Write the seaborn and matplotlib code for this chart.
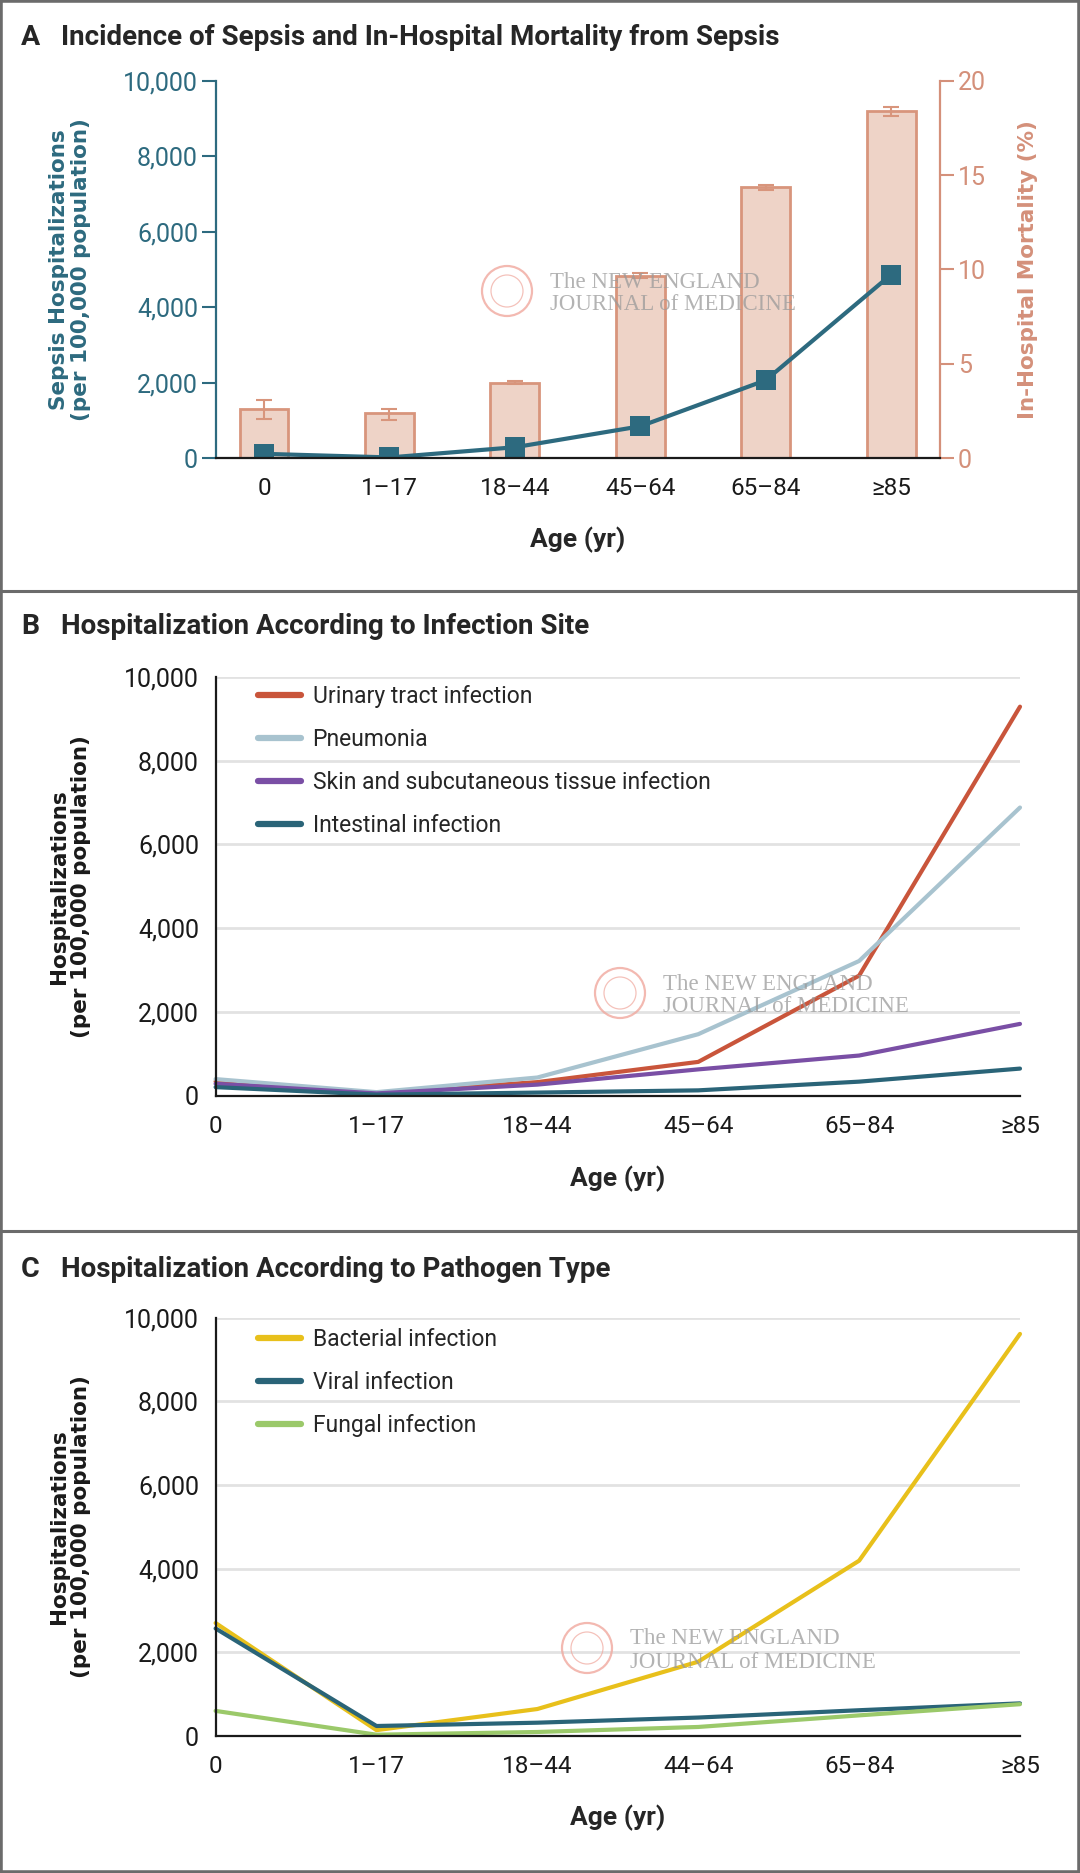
import matplotlib.pyplot as plt
import matplotlib.patches as mpatches
from matplotlib.lines import Line2D
from matplotlib.ticker import FuncFormatter
import seaborn as sns
import pandas as pd

# ---- data ----
age_groups = ['0', '1–17', '18–44', '45–64', '65–84', '≥85']
age_groups_c = ['0', '1–17', '18–44', '44–64', '65–84', '≥85']

# panel A
sepsis_rate = [110, 15, 285, 840, 2060, 4860]
mortality_pct = [2.6, 2.36, 4.0, 9.67, 14.36, 18.37]
mortality_low = [2.07, 2.04, 3.9, 9.55, 14.22, 18.14]
mortality_high = [3.09, 2.61, 4.1, 9.8, 14.49, 18.59]

# panel B
site_names = ['Urinary tract infection', 'Pneumonia',
              'Skin and subcutaneous tissue infection', 'Intestinal infection']
uti = [335, 60, 320, 803, 2864, 9291]
pneumonia = [392, 80, 430, 1465, 3214, 6881]
skin = [280, 50, 260, 624, 955, 1711]
intestinal = [200, 20, 70, 123, 331, 643]

# panel C
pathogen_names = ['Bacterial infection', 'Viral infection', 'Fungal infection']
bacterial = [2700, 140, 645, 1776, 4190, 9610]
viral = [2570, 239, 318, 441, 616, 780]
fungal = [600, 31, 96, 216, 493, 760]

# ---- style ----
TEAL = '#2d6a7f'
SALMON = '#d4907a'
BAR_FILL = '#eed3c7'
BAR_EDGE = '#d8957c'
BORDER = '#6b6b6b'
site_colors = ['#c9553b', '#a8c3cf', '#7a4fa5', '#2a6478']
pathogen_colors = ['#e8c01b', '#2a6478', '#9bc96a']

sns.set_style('white')
plt.rcParams['font.family'] = ['Roboto', 'DejaVu Sans']
plt.rcParams['axes.linewidth'] = 1.6

W, H = 1080, 1873
fig = plt.figure(figsize=(W / 100, H / 100), dpi=100)


def fx(px):
    return px / W


def fy(py):
    return 1 - py / H


def axes_rect(left, top, right, bottom):
    return [fx(left), fy(bottom), (right - left) / W, (bottom - top) / H]


comma_fmt = FuncFormatter(lambda v, p: f'{int(v):,}')
label_font = dict(family='DejaVu Sans', fontweight='bold', fontsize=15.5)


def panel_title(letter, text, baseline):
    fig.text(fx(21), fy(baseline), letter, fontsize=20.5, fontweight='bold', va='baseline')
    fig.text(fx(61), fy(baseline), text, fontsize=20, fontweight='bold', va='baseline')


def watermark(cx, cy):
    fig.add_artist(mpatches.Ellipse((fx(cx), fy(cy)), 50 / W, 50 / H, transform=fig.transFigure,
                                    fill=False, ec='#f0a89e', lw=1.6, alpha=0.8))
    fig.add_artist(mpatches.Ellipse((fx(cx), fy(cy)), 32 / W, 32 / H, transform=fig.transFigure,
                                    fill=False, ec='#f0a89e', lw=0.9, alpha=0.7))
    fig.text(fx(cx + 43), fy(cy - 9), 'The NEW ENGLAND', family='Liberation Serif',
             fontsize=16.5, color='#9a9a9a', alpha=0.75, va='center')
    fig.text(fx(cx + 43), fy(cy + 14), 'JOURNAL of MEDICINE', family='Liberation Serif',
             fontsize=16.5, color='#9a9a9a', alpha=0.75, va='center')


# ================= Panel A =================
ax_a = fig.add_axes(axes_rect(216, 80.7, 940, 458))
ax_a2 = ax_a.twinx()

sns.barplot(x=age_groups, y=mortality_pct, ax=ax_a2, color=BAR_FILL, edgecolor=BAR_EDGE,
            linewidth=2, width=0.39, saturation=1, errorbar=None)
yerr = [[m - lo for m, lo in zip(mortality_pct, mortality_low)],
        [hi - m for m, hi in zip(mortality_pct, mortality_high)]]
ax_a2.errorbar(range(len(age_groups)), mortality_pct, yerr=yerr, fmt='none',
               ecolor=BAR_EDGE, elinewidth=1.5, capsize=6, capthick=1.5)

sns.pointplot(x=age_groups, y=sepsis_rate, ax=ax_a, color=TEAL, markers='s',
              markersize=15, linewidth=3, markeredgewidth=0, errorbar=None)

ax_a.set_zorder(ax_a2.get_zorder() + 1)
ax_a.patch.set_visible(False)

ax_a.set_ylim(0, 10000)
ax_a2.set_ylim(0, 20)
ax_a.set_xlim(-0.383, 5.39)
ax_a.set_yticks(range(0, 10001, 2000))
ax_a.yaxis.set_major_formatter(comma_fmt)
ax_a2.set_yticks(range(0, 21, 5))

for s in ['top', 'right']:
    ax_a.spines[s].set_visible(False)
ax_a.spines['left'].set_color(TEAL)
ax_a.spines['bottom'].set_color('#1a1a1a')
for s in ['top', 'left', 'bottom']:
    ax_a2.spines[s].set_visible(False)
ax_a2.spines['right'].set_color(SALMON)

ax_a.tick_params(axis='y', colors=TEAL, length=10, width=1.5, labelsize=18, pad=3)
ax_a.tick_params(axis='x', colors='#1a1a1a', length=9, width=1.5, labelsize=17.5, pad=5)
ax_a2.tick_params(axis='y', colors=SALMON, length=10, width=1.5, labelsize=18, pad=3)

ax_a.set_ylabel('Sepsis Hospitalizations\n(per 100,000 population)', color=TEAL,
                va='center', linespacing=1.15, **label_font)
ax_a.yaxis.set_label_coords((70 - 216) / 724, 0.5)
ax_a2.set_ylabel('In-Hospital Mortality (%)', color=SALMON, rotation=90, va='center', **label_font)
ax_a2.yaxis.set_label_coords((1028 - 216) / 724, 0.5)
ax_a.set_xlabel('Age (yr)', fontsize=19, fontweight='bold', va='center')
ax_a.xaxis.set_label_coords(0.5, (458 - 540) / 377.3)

panel_title('A', 'Incidence of Sepsis and In-Hospital Mortality from Sepsis', 45)
watermark(507, 291)


# ================= Panels B and C =================
def line_panel(ax, ages, names, series, colors, legend_top, xlabel_y, bottom_px):
    df = pd.DataFrame({
        'age': [a for _ in names for a in ages],
        'rate': [v for s in series for v in s],
        'group': [n for n in names for _ in ages],
    })
    sns.lineplot(data=df, x='age', y='rate', hue='group', hue_order=names,
                 palette=dict(zip(names, colors)), lw=3, sort=False, ax=ax, clip_on=False)
    ax.set_ylim(0, 10000)
    ax.set_xlim(0, len(ages) - 1)
    ax.set_yticks(range(0, 10001, 2000))
    ax.yaxis.set_major_formatter(comma_fmt)
    ax.yaxis.grid(True, color='#e2e2e2', lw=2)
    ax.set_axisbelow(True)
    for s in ['top', 'right']:
        ax.spines[s].set_visible(False)
    for s in ['left', 'bottom']:
        ax.spines[s].set_color('#1a1a1a')
    ax.tick_params(axis='both', colors='#1a1a1a', length=9, width=1.5, labelsize=18)
    ax.tick_params(axis='y', pad=3)
    ax.tick_params(axis='x', pad=5, labelsize=17.5)
    ax.set_ylabel('Hospitalizations\n(per 100,000 population)', color='#1a1a1a',
                  va='center', linespacing=1.15, **label_font)
    ax.yaxis.set_label_coords((70 - 215.6) / 804.4, 0.5)
    ax.set_xlabel('Age (yr)', fontsize=19, fontweight='bold', va='center')
    ax.xaxis.set_label_coords(0.5, (bottom_px - xlabel_y) / 418.5)
    sns.move_legend(ax, 'upper left', bbox_to_anchor=(0.053, legend_top), frameon=False,
                    title=None, fontsize=16.5, handlelength=1.85, handletextpad=0.52,
                    labelspacing=0.88, borderpad=0, borderaxespad=0)
    for ln in ax.get_legend().get_lines():
        ln.set_linewidth(4.5)


ax_b = fig.add_axes(axes_rect(215.6, 677, 1020, 1095.5))
line_panel(ax_b, age_groups, site_names, [uti, pneumonia, skin, intestinal],
           site_colors, 0.982, 1179, 1095.5)
panel_title('B', 'Hospitalization According to Infection Site', 634)
watermark(620, 993)

ax_c = fig.add_axes(axes_rect(215.6, 1317.6, 1020, 1736))
line_panel(ax_c, age_groups_c, pathogen_names, [bacterial, viral, fungal],
           pathogen_colors, 0.975, 1818, 1736)
panel_title('C', 'Hospitalization According to Pathogen Type', 1277)
watermark(587, 1648)

# ---- panel frames ----
fig.add_artist(mpatches.Rectangle((0, 0), 1, 1, transform=fig.transFigure, fill=False,
                                  ec=BORDER, lw=4))
for y in [591, 1231]:
    fig.add_artist(Line2D([0, 1], [fy(y), fy(y)], transform=fig.transFigure, color=BORDER, lw=2.2))

fig.savefig('out.png', dpi=100)
